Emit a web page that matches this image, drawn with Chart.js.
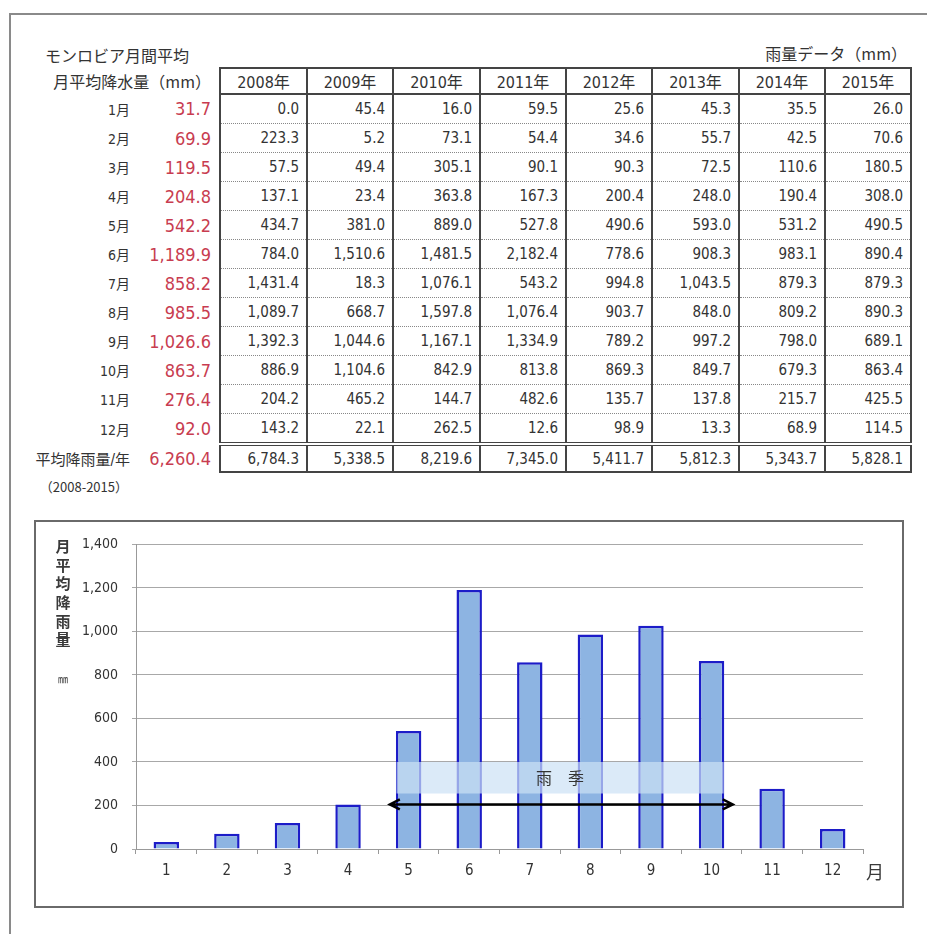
<!DOCTYPE html>
<html>
<head>
<meta charset="utf-8">
<script src="https://cdn.jsdelivr.net/npm/chart.js@4.4.0/dist/chart.umd.min.js"></script>
<style>
  body { margin: 0; background: #fff; width: 927px; height: 934px; overflow: hidden; position: relative;
         font-family: "DejaVu Sans Condensed", "DejaVu Sans", "Noto Sans CJK JP", sans-serif; color: #333; }
  .frame { position: absolute; left: 9px; top: 13px; width: 940px; height: 940px;
           border-left: 2px solid #8a8a8a; border-top: 2px solid #8a8a8a; }
  .cap { position: absolute; font-family: "Noto Sans CJK JP", sans-serif; font-size: 16px; line-height: 20px; color: #333; white-space: nowrap; }
  #rain { position: absolute; left: 20px; top: 67px; border-collapse: collapse; table-layout: fixed; }
  #rain td { height: 28px; padding: 0 7px 0 0; text-align: right; font-size: 15px; white-space: nowrap; }
  #rain td.yr { border-left: 2px solid #444; border-right: 2px solid #444; border-bottom: 1px dotted #888; }
  #rain tr.head td { height: 24px; }
  #rain tr.head td.yr { border-top: 2px solid #444; border-bottom: 2px solid #444; text-align: center; padding: 0; font-size: 16px; }
  #rain tr.head td.lbl { font-family: "Noto Sans CJK JP", sans-serif; font-size: 16px; padding-right: 8px; }
  #rain tr.total td { height: 25px; }
  #rain tr.total td.yr { border-top: 4px double #444; border-bottom: 2px solid #444; }
  #rain td.mon { font-size: 14px; padding-right: 10px; }
  #rain tr.total td.mon { font-size: 15px; padding-right: 10px; }
  #rain td.avg { color: #c83c50; font-size: 18px; padding-right: 8px; }
  #box { position: absolute; left: 34px; top: 520px; width: 866px; height: 384px; border: 2px solid #6a6a6a; }
</style>
</head>
<body>
<div class="frame"></div>
<div class="cap" style="left:45px; top:45px;">モンロビア月間平均</div>
<div class="cap" style="right:20px; top:43px;">雨量データ（mm）</div>
<div class="cap" style="left:36px; top:477px; font-size:13px; width:92px; text-align:right;">（2008-2015）</div>
<table id="rain">
  <colgroup>
    <col style="width:120px"><col style="width:80px">
    <col style="width:87px"><col style="width:86px"><col style="width:87px"><col style="width:86px">
    <col style="width:86px"><col style="width:87px"><col style="width:86px"><col style="width:86px">
  </colgroup>
  <tbody id="rainBody"></tbody>
</table>
<div id="box"><canvas id="rainChart" width="866" height="384"></canvas></div>

<script>
// monthly averages (mm), 2008-2015
const months = ["1月", "2月", "3月", "4月", "5月", "6月", "7月", "8月", "9月", "10月", "11月", "12月"];
const xTicks = ["1", "2", "3", "4", "5", "6", "7", "8", "9", "10", "11", "12"];
const monthlyAvg = [31.7, 69.9, 119.5, 204.8, 542.2, 1189.9, 858.2, 985.5, 1026.6, 863.7, 276.4, 92.0];
const avgPerYear = 6260.4;

const years = ["2008年", "2009年", "2010年", "2011年", "2012年", "2013年", "2014年", "2015年"];
const rain2008 = [0.0, 223.3, 57.5, 137.1, 434.7, 784.0, 1431.4, 1089.7, 1392.3, 886.9, 204.2, 143.2];
const rain2009 = [45.4, 5.2, 49.4, 23.4, 381.0, 1510.6, 18.3, 668.7, 1044.6, 1104.6, 465.2, 22.1];
const rain2010 = [16.0, 73.1, 305.1, 363.8, 889.0, 1481.5, 1076.1, 1597.8, 1167.1, 842.9, 144.7, 262.5];
const rain2011 = [59.5, 54.4, 90.1, 167.3, 527.8, 2182.4, 543.2, 1076.4, 1334.9, 813.8, 482.6, 12.6];
const rain2012 = [25.6, 34.6, 90.3, 200.4, 490.6, 778.6, 994.8, 903.7, 789.2, 869.3, 135.7, 98.9];
const rain2013 = [45.3, 55.7, 72.5, 248.0, 593.0, 908.3, 1043.5, 848.0, 997.2, 849.7, 137.8, 13.3];
const rain2014 = [35.5, 42.5, 110.6, 190.4, 531.2, 983.1, 879.3, 809.2, 798.0, 679.3, 215.7, 68.9];
const rain2015 = [26.0, 70.6, 180.5, 308.0, 490.5, 890.4, 879.3, 890.3, 689.1, 863.4, 425.5, 114.5];
const yearTotals = [6784.3, 5338.5, 8219.6, 7345.0, 5411.7, 5812.3, 5343.7, 5828.1];

const rainySeason = [5, 10];
const seasonLabel = "雨　季";
const yTitle = "月平均降雨量";
const yUnit = "㎜";
const xUnit = "月";

const numFont = "'DejaVu Sans Condensed', 'DejaVu Sans', 'Noto Sans CJK JP', sans-serif";
const fmt = (v) => v.toLocaleString("en-US", { minimumFractionDigits: 1, maximumFractionDigits: 1 });

// table
const yearCols = [rain2008, rain2009, rain2010, rain2011, rain2012, rain2013, rain2014, rain2015];
const body = document.getElementById("rainBody");

const head = document.createElement("tr");
head.className = "head";
head.innerHTML = `<td class="lbl" colspan="2">月平均降水量（mm）</td>` + years.map((y) => `<td class="yr">${y}</td>`).join("");
body.appendChild(head);

months.forEach((m, i) => {
  const tr = document.createElement("tr");
  tr.innerHTML = `<td class="mon">${m}</td><td class="avg">${fmt(monthlyAvg[i])}</td>` +
    yearCols.map((col) => `<td class="yr">${fmt(col[i])}</td>`).join("");
  body.appendChild(tr);
});

const total = document.createElement("tr");
total.className = "total";
total.innerHTML = `<td class="mon">平均降雨量/年</td><td class="avg">${fmt(avgPerYear)}</td>` +
  yearTotals.map((v) => `<td class="yr">${fmt(v)}</td>`).join("");
body.appendChild(total);

// band, arrow and axis captions
const overlay = {
  id: "overlay",
  afterDatasetsDraw(chart) {
    const { ctx, scales: { x, y } } = chart;
    const i0 = rainySeason[0] - 1;
    const i1 = rainySeason[1] - 1;
    const bx0 = x.getPixelForValue(i0 - 0.2);
    const bx1 = x.getPixelForValue(i1 + 0.2);
    const by0 = y.getPixelForValue(400);
    const by1 = y.getPixelForValue(255);
    ctx.save();
    ctx.fillStyle = "rgba(204,225,245,0.7)";
    ctx.fillRect(bx0, by0, bx1 - bx0, by1 - by0);
    ctx.fillStyle = "#333";
    ctx.font = "16px 'Noto Sans CJK JP'";
    ctx.textAlign = "center";
    ctx.textBaseline = "middle";
    ctx.fillText(seasonLabel, (bx0 + bx1) / 2, (by0 + by1) / 2);

    const ay = y.getPixelForValue(205);
    const ax0 = x.getPixelForValue(i0 - 0.31);
    const ax1 = x.getPixelForValue(i1 + 0.35);
    ctx.strokeStyle = "#000";
    ctx.lineWidth = 2.5;
    ctx.beginPath();
    ctx.moveTo(ax0, ay);
    ctx.lineTo(ax1, ay);
    ctx.moveTo(ax0 + 10, ay - 5);
    ctx.lineTo(ax0, ay);
    ctx.lineTo(ax0 + 10, ay + 5);
    ctx.moveTo(ax1 - 10, ay - 5);
    ctx.lineTo(ax1, ay);
    ctx.lineTo(ax1 - 10, ay + 5);
    ctx.stroke();
    ctx.restore();
  },
  afterDraw(chart) {
    const { ctx, chartArea } = chart;
    ctx.save();
    ctx.fillStyle = "#3a3a3a";
    ctx.textAlign = "center";
    ctx.textBaseline = "middle";
    ctx.font = "bold 15px 'Noto Sans CJK JP'";
    [...yTitle].forEach((ch, k) => ctx.fillText(ch, 27, chartArea.top + 2 + k * 18.6));
    ctx.font = "10px 'Noto Sans CJK JP'";
    ctx.fillText(yUnit, 27, chartArea.top + 135);
    ctx.font = "18px 'Noto Sans CJK JP'";
    ctx.fillText(xUnit, chartArea.right + 12, chartArea.bottom + 23);
    ctx.restore();
  },
};

new Chart(document.getElementById("rainChart"), {
  type: "bar",
  data: {
    labels: xTicks,
    datasets: [{
      data: monthlyAvg,
      backgroundColor: "#8db4e2",
      borderColor: "#1c1cc8",
      borderWidth: 2.5,
      barPercentage: 0.42,
      categoryPercentage: 1,
    }],
  },
  options: {
    responsive: false,
    animation: false,
    events: [],
    layout: { padding: { left: 0, top: 18, right: 39, bottom: 0 } },
    plugins: { legend: { display: false }, tooltip: { enabled: false } },
    scales: {
      x: {
        grid: { drawOnChartArea: false, drawTicks: true, tickLength: 5, color: "#999", offset: true },
        border: { color: "#999" },
        ticks: { color: "#333", font: { size: 15, family: numFont }, padding: 8 },
        afterFit(s) { s.height = 57; },
      },
      y: {
        min: 0,
        max: 1400,
        grid: { color: "#a8a8a8", tickLength: 4 },
        border: { color: "#999" },
        ticks: { stepSize: 200, color: "#333", font: { size: 14, family: numFont }, padding: 14,
                 callback: (v) => v.toLocaleString("en-US") },
        afterFit(s) { s.width = 100; },
      },
    },
  },
  plugins: [overlay],
});
</script>
</body>
</html>
